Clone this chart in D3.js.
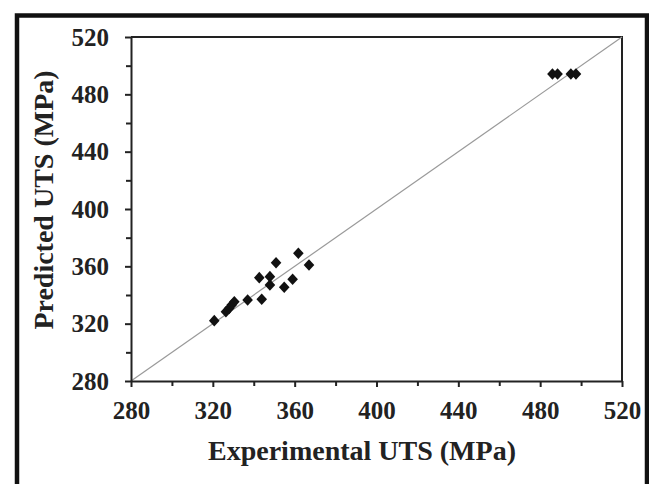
<!DOCTYPE html>
<html>
<head>
<meta charset="utf-8">
<script src="https://cdn.jsdelivr.net/npm/d3@7"></script>
<style>
  html, body { margin: 0; padding: 0; background: #fff; }
  svg { display: block; }
  text { font-family: "Liberation Serif", "Times New Roman", serif; font-weight: bold; fill: #222; }
</style>
</head>
<body>
<svg id="chart" width="649" height="484"></svg>
<script>
// Data
const experimental = [320.7, 326.4, 328.0, 329.2, 330.5, 337.0, 343.9, 342.7, 347.9, 347.9, 350.9, 354.9, 359.0, 361.8, 367.0, 486.0, 488.5, 495.0, 497.5];
const predicted    = [322.1, 328.3, 330.7, 333.0, 335.3, 336.5, 337.0, 352.1, 352.8, 347.0, 362.5, 345.4, 351.0, 369.1, 360.9, 494.2, 494.2, 494.2, 494.2];
const majorTicks = [280, 320, 360, 400, 440, 480, 520];
const minorTicks = [300, 340, 380, 420, 460, 500];
const xTitle = "Experimental UTS (MPa)";
const yTitle = "Predicted UTS (MPa)";

const svg = d3.select("#chart");
const W = 649, H = 484;
const pL = 131, pR = 622, pT = 37, pB = 381;

// outer frame (thick black border, open at bottom)
svg.append("path")
  .attr("d", `M17,${H} L17,15.5 L647,15.5 L647,${H}`)
  .attr("fill", "none").attr("stroke", "#111").attr("stroke-width", 4.5);

const x = d3.scaleLinear().domain([280, 520]).range([pL, pR]);
const y = d3.scaleLinear().domain([280, 520]).range([pB, pT]);

// plot frame (top & right)
svg.append("path")
  .attr("d", `M${pL},${pT} L${pR},${pT} L${pR},${pB}`)
  .attr("fill", "none").attr("stroke", "#222").attr("stroke-width", 2);

// diagonal line y = x
svg.append("line")
  .attr("x1", x(280)).attr("y1", y(280))
  .attr("x2", x(520)).attr("y2", y(520))
  .attr("stroke", "#9a9a9a").attr("stroke-width", 1.2);

// minor ticks
const xMinor = svg.append("g").attr("transform", `translate(0,${pB})`)
  .call(d3.axisBottom(x).tickValues(minorTicks).tickSize(5).tickFormat(""));
const yMinor = svg.append("g").attr("transform", `translate(${pL},0)`)
  .call(d3.axisLeft(y).tickValues(minorTicks).tickSize(5).tickFormat(""));
[xMinor, yMinor].forEach(g => {
  g.select(".domain").remove();
  g.selectAll("line").attr("stroke", "#222").attr("stroke-width", 2);
});

// major axes
const xAxis = svg.append("g").attr("transform", `translate(0,${pB})`)
  .call(d3.axisBottom(x).tickValues(majorTicks).tickSize(6).tickSizeOuter(0).tickPadding(14).tickFormat(d3.format("d")));
const yAxis = svg.append("g").attr("transform", `translate(${pL},0)`)
  .call(d3.axisLeft(y).tickValues(majorTicks).tickSize(6).tickSizeOuter(0).tickPadding(16).tickFormat(d3.format("d")));
[xAxis, yAxis].forEach(g => {
  g.select(".domain").attr("stroke", "#222").attr("stroke-width", 2);
  g.selectAll(".tick line").attr("stroke", "#222").attr("stroke-width", 2);
  g.selectAll(".tick text")
    .attr("font-family", '"Liberation Serif", "Times New Roman", serif')
    .attr("font-weight", "bold").attr("font-size", 25).attr("fill", "#222");
});

// diamonds
const diamond = (cx, cy) => `M${cx},${cy - 5.8} L${cx + 5.3},${cy} L${cx},${cy + 5.8} L${cx - 5.3},${cy} Z`;
svg.append("g").selectAll("path")
  .data(experimental.map((e, i) => [e, predicted[i]]))
  .join("path")
  .attr("d", d => diamond(x(d[0]), y(d[1])))
  .attr("fill", "#111");

// axis titles
svg.append("text")
  .attr("x", 362).attr("y", 460)
  .attr("text-anchor", "middle").attr("font-size", 28)
  .text(xTitle);
svg.append("text")
  .attr("transform", "translate(53,200) rotate(-90)")
  .attr("text-anchor", "middle").attr("font-size", 28)
  .text(yTitle);
</script>
</body>
</html>
